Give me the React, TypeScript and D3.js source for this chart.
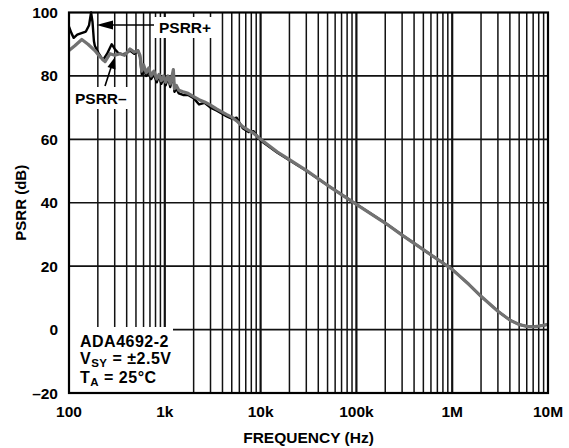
import * as d3 from 'd3';

const WIDTH = 569;
const HEIGHT = 448;
const MARGIN = { top: 12.5, right: 21, bottom: 55, left: 69 };

// PSRR+ (black trace)
const posFreq = [
  100, 106, 112, 122, 135, 150, 162, 170, 176, 182, 186, 205, 226, 250, 279, 300, 325, 360, 400, 433,
  480, 525, 551, 575, 600, 640, 680, 720, 770, 824, 870, 920, 970, 1020, 1080, 1140, 1200, 1228, 1260,
  1320, 1400, 1550, 1750, 2000, 2280, 2600, 3000, 3500, 4440, 5000, 5630, 6500, 7500, 8400, 10000,
  15000, 20000, 30000, 50000, 100000, 200000, 300000, 500000, 1e6, 1.5e6, 2e6, 3e6, 4e6, 5e6, 6e6,
  7e6, 8e6, 1e7,
];
const posDb = [
  95.5, 93.5, 92, 93, 93.5, 94, 96, 100, 97, 91, 89.5, 87, 85, 87, 90, 88.5, 87.3, 86.8, 87.2, 88,
  87, 88, 86, 80.5, 82.5, 80, 81.5, 79, 80.5, 78, 80, 77.5, 79.5, 77, 79.5, 76.5, 79.5, 81, 75,
  76, 74.5, 74, 74, 73, 71, 71.5, 70, 69, 67.2, 66.5, 66.8, 63.5, 62.3, 62.6, 59.6,
  55.8, 53.4, 50.1, 45.5, 39.5, 33.6, 29.8, 25.2, 19, 14.2, 10.5, 5.8, 3, 1.6, 1,
  0.9, 1.1, 1.6,
];

// PSRR– (gray trace)
const negFreq = [
  100, 115, 136, 158, 186, 211, 238, 268, 300, 341, 380, 433, 480, 525, 551, 575, 600, 640, 680, 720,
  770, 824, 870, 920, 970, 1020, 1080, 1140, 1200, 1228, 1260, 1320, 1400, 1550, 1750, 2000, 2280,
  2600, 3000, 3500, 4440, 5000, 5630, 6500, 7500, 8400, 10000, 15000, 20000, 30000, 50000, 100000,
  200000, 300000, 500000, 1e6, 1.5e6, 2e6, 3e6, 4e6, 5e6, 6e6, 7e6, 8e6, 1e7,
];
const negDb = [
  88, 89.5, 91.5, 90, 88, 86, 84.5, 87, 86.5, 87, 86.5, 88.5, 87.5, 88, 86.5, 81.5, 83.5, 81, 82.5, 80,
  81.5, 79, 80.5, 78.5, 80, 78, 80, 77.5, 80.5, 82, 76, 77, 75.5, 75, 74.5, 73.5, 72.5,
  71.8, 70.8, 69.5, 67.8, 67, 65.8, 64, 62.8, 62, 60, 56, 53.6, 50.2, 45.5, 39.5,
  33.6, 29.8, 25.2, 19, 14.2, 10.5, 5.8, 3, 1.6, 1, 0.9, 1.1, 1.6,
];

const xTickValues = [100, 1e3, 1e4, 1e5, 1e6, 1e7];
const xTickLabels = ['100', '1k', '10k', '100k', '1M', '10M'];
const yTickValues = [-20, 0, 20, 40, 60, 80, 100];
const yTickLabels = ['–20', '0', '20', '40', '60', '80', '100'];

const FONT = "Arial, 'Liberation Sans', Helvetica, sans-serif";

export default function App() {
  const x0 = MARGIN.left;
  const x1 = WIDTH - MARGIN.right;
  const y0 = MARGIN.top;
  const y1 = HEIGHT - MARGIN.bottom;

  const xScale = d3.scaleLog().domain([100, 1e7]).range([x0, x1]);
  const yScale = d3.scaleLinear().domain([-20, 100]).range([y1, y0]);

  const line = d3
    .line<[number, number]>()
    .x((d) => xScale(d[0]))
    .y((d) => yScale(d[1]));

  const posPath = line(posFreq.map((f, i) => [f, posDb[i]]) as [number, number][]) ?? '';
  const negPath = line(negFreq.map((f, i) => [f, negDb[i]]) as [number, number][]) ?? '';

  // every 1..9 step in each decade
  const vGrid = xScale.ticks(50).filter((v) => v > 100 && v < 1e7);

  return (
    <div style={{ position: 'absolute', left: 0, top: 0 }}>
      <svg width={WIDTH} height={HEIGHT} style={{ display: 'block', background: '#fff' }}>
        {/* grid */}
        {vGrid.map((v, i) => {
          const major = xTickValues.includes(v);
          return (
            <line
              key={'v' + i}
              x1={xScale(v)}
              x2={xScale(v)}
              y1={y0}
              y2={y1}
              stroke="#111"
              strokeWidth={major ? 2.2 : 1.5}
            />
          );
        })}
        {yTickValues.slice(1, -1).map((v, i) => (
          <line
            key={'h' + i}
            x1={x0}
            x2={x1}
            y1={yScale(v)}
            y2={yScale(v)}
            stroke="#111"
            strokeWidth={1.6}
          />
        ))}

        {/* white boxes behind annotations */}
        <rect x={x0} y={327} width={104} height={y1 - 327} fill="#fff" />
        <rect x={153} y={17} width={63} height={21} fill="#fff" />
        <rect x={72} y={87} width={58} height={22} fill="#fff" />

        {/* traces */}
        <path d={posPath} fill="none" stroke="#000" strokeWidth={2.4} strokeLinejoin="round" />
        <path d={negPath} fill="none" stroke="#727272" strokeWidth={3.2} strokeLinejoin="round" />

        {/* frame */}
        <rect x={x0} y={y0} width={x1 - x0} height={y1 - y0} fill="none" stroke="#000" strokeWidth={2.2} />

        {/* annotations */}
        <g fontFamily={FONT} fontWeight="bold" fontSize={15.5}>
          <line x1={110} y1={25} x2={154} y2={25} stroke="#000" strokeWidth={1.6} />
          <path d="M96.5,25 L113,20.5 L113,29.5 Z" fill="#000" />
          <text x={159} y={33}>PSRR+</text>

          <line x1={105} y1={86} x2={111.5} y2={66} stroke="#000" strokeWidth={1.6} />
          <path d="M115,57 L115.5,69.5 L107.5,67 Z" fill="#000" />
          <text x={75} y={104}>PSRR–</text>
        </g>
        <g fontFamily={FONT} fontWeight="bold" fontSize={16} letterSpacing={0.5}>
          <text x={80} y={347}>ADA4692-2</text>
          <text x={80} y={364}>
            V<tspan fontSize={11.5} dy={3}>SY</tspan>
            <tspan dy={-3}> = ±2.5V</tspan>
          </text>
          <text x={80} y={383}>
            T<tspan fontSize={11.5} dy={3}>A</tspan>
            <tspan dy={-3}> = 25°C</tspan>
          </text>
        </g>

        {/* axes labels */}
        <g fontFamily={FONT} fontWeight="bold" fontSize={15.5}>
          {xTickValues.map((v, i) => (
            <text key={'xt' + i} x={xScale(v)} y={417} textAnchor="middle">
              {xTickLabels[i]}
            </text>
          ))}
          {yTickValues.map((v, i) => (
            <text key={'yt' + i} x={58} y={yScale(v) + 5.5} textAnchor="end">
              {yTickLabels[i]}
            </text>
          ))}
          <text x={(x0 + x1) / 2} y={443} textAnchor="middle">
            FREQUENCY (Hz)
          </text>
          <text
            transform={`translate(26, ${(y0 + y1) / 2}) rotate(-90)`}
            textAnchor="middle"
            fontSize={15}
          >
            PSRR (dB)
          </text>
        </g>
      </svg>
    </div>
  );
}
